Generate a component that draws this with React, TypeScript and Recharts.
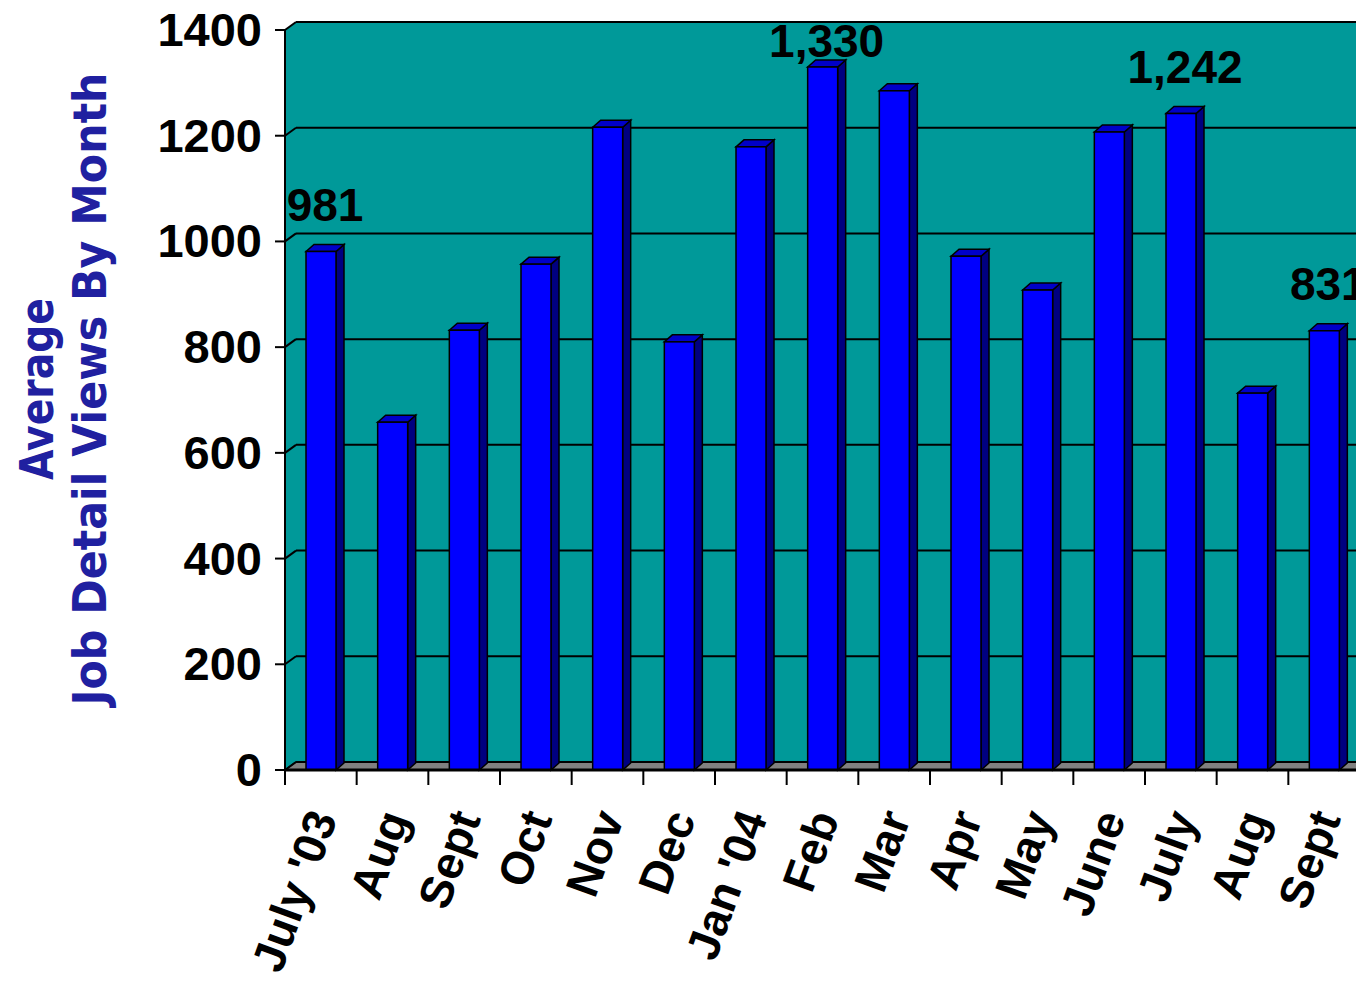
import { BarChart, Bar, XAxis, YAxis, CartesianGrid, ReferenceArea, LabelList } from 'recharts';

const months = ["July '03", 'Aug', 'Sept', 'Oct', 'Nov', 'Dec', "Jan '04", 'Feb', 'Mar', 'Apr', 'May', 'June', 'July', 'Aug', 'Sept'];
const views = [981, 658, 832, 957, 1216, 810, 1179, 1330, 1285, 972, 908, 1207, 1242, 713, 831];
const labelledMonths = [0, 7, 12, 14];
const yTicks = [0, 200, 400, 600, 800, 1000, 1200, 1400];

const data = months.map((month, i) => ({
  month,
  views: views[i],
  label: labelledMonths.includes(i) ? views[i].toLocaleString('en-US') : '',
}));

const CHART_W = 1362;
const CHART_H = 987;
const MARGIN = { top: 30, right: 2, bottom: 0, left: 0 };
const Y_AXIS_W = 285;
const BAND = (CHART_W - MARGIN.left - MARGIN.right - Y_AXIS_W) / months.length;

const TEAL = '#009999';
const FONT = '"Liberation Sans", Arial, sans-serif';
const WALL_DX = 11;
const WALL_DY = 8;
const BAR_DX = 8;
const BAR_DY = 7;

function Walls(props: any) {
  const { x, y, width, height } = props;
  const b = y + height;
  return (
    <g>
      <polygon
        points={`${x},${y} ${x + WALL_DX},${y - WALL_DY} ${x + width + WALL_DX},${y - WALL_DY} ${x + width + WALL_DX},${b - WALL_DY} ${x + width},${b} ${x},${b}`}
        fill={TEAL}
      />
      <polygon
        points={`${x},${b} ${x + WALL_DX},${b - WALL_DY} ${x + width + WALL_DX},${b - WALL_DY} ${x + width},${b}`}
        fill="#808080"
        stroke="#000"
        strokeWidth={1.5}
      />
    </g>
  );
}

function GridLine(props: any) {
  const { x1, y1, x2 } = props;
  return (
    <g key={props.key}>
      <line x1={x1} y1={y1} x2={x1 + WALL_DX} y2={y1 - WALL_DY} stroke="#000" strokeWidth={2} />
      <line x1={x1 + WALL_DX} y1={y1 - WALL_DY} x2={x2 + WALL_DX} y2={y1 - WALL_DY} stroke="#000" strokeWidth={2} />
    </g>
  );
}

function Bar3D(props: any) {
  const { x, y, width, height } = props;
  if (!height || height <= 0) return null;
  const r = x + width;
  const b = y + height;
  return (
    <g>
      <polygon
        points={`${r},${y} ${r + BAR_DX},${y - BAR_DY} ${r + BAR_DX},${b - BAR_DY} ${r},${b}`}
        fill="#000080"
        stroke="#000"
        strokeWidth={1.5}
      />
      <polygon
        points={`${x},${y} ${x + BAR_DX},${y - BAR_DY} ${r + BAR_DX},${y - BAR_DY} ${r},${y}`}
        fill="#0000c8"
        stroke="#000"
        strokeWidth={1.5}
      />
      <rect x={x} y={y} width={width} height={height} fill="#0000ff" stroke="#000" strokeWidth={1.5} />
    </g>
  );
}

function ValueLabel(props: any) {
  const vb = props.viewBox ?? props;
  const { x, y, width } = vb;
  if (!props.value) return null;
  const cy = Math.max(y - 47, 40);
  return (
    <text x={x + width / 2 + 4} y={cy} dy="0.36em" textAnchor="middle" fontSize={46} fontWeight="bold" fontFamily={FONT} fill="#000">
      {props.value}
    </text>
  );
}

function ValueTick(props: any) {
  const { x, y, payload } = props;
  return (
    <text x={x} y={y} dy={16} textAnchor="end" fontSize={47} fontWeight="bold" fontFamily={FONT} fill="#000">
      {payload.value}
    </text>
  );
}

function MonthTick(props: any) {
  const { x, y, payload } = props;
  const edge = x - BAND / 2;
  const px = x + 17;
  const py = y + 48;
  return (
    <g>
      <line x1={edge} y1={y} x2={edge} y2={y + 15} stroke="#000" strokeWidth={2} />
      <text x={px} y={py} transform={`rotate(-70, ${px}, ${py})`} textAnchor="end" fontSize={46} fontWeight="bold" fontFamily={FONT} fill="#000">
        {payload.value}
      </text>
    </g>
  );
}

function YTitle(props: any) {
  const vb = props.viewBox;
  const cy = vb.y + vb.height / 2 - 11;
  const style = { fontFamily: '"DejaVu Sans", sans-serif', fontWeight: 'bold' as const, fill: '#2020a0' };
  return (
    <g>
      <text transform={`translate(53, ${cy}) rotate(-90)`} textAnchor="middle" fontSize={46} textLength={182} lengthAdjust="spacingAndGlyphs" style={style}>
        Average
      </text>
      <text transform={`translate(106, ${cy}) rotate(-90)`} textAnchor="middle" fontSize={46} textLength={633} lengthAdjust="spacingAndGlyphs" style={style}>
        Job Detail Views By Month
      </text>
    </g>
  );
}

export default function App() {
  return (
    <div style={{ position: 'absolute', left: 0, top: 0, width: 1356, height: 987, overflow: 'hidden', background: '#fff' }}>
      <BarChart width={CHART_W} height={CHART_H} data={data} margin={MARGIN} barSize={30}>
        <ReferenceArea y1={0} y2={1400} shape={Walls} ifOverflow="visible" zIndex={-200} />
        <CartesianGrid vertical={false} horizontal={GridLine} />
        <YAxis
          width={Y_AXIS_W}
          domain={[0, 1400]}
          ticks={yTicks}
          interval={0}
          tick={ValueTick}
          tickSize={10}
          tickMargin={13}
          axisLine={{ stroke: '#000', strokeWidth: 2 }}
          tickLine={{ stroke: '#000', strokeWidth: 2 }}
          label={{ content: YTitle }}
        />
        <XAxis
          dataKey="month"
          height={217}
          interval={0}
          tick={MonthTick}
          tickSize={0}
          tickMargin={0}
          tickLine={false}
          axisLine={{ stroke: '#000', strokeWidth: 3 }}
        />
        <Bar dataKey="views" shape={Bar3D} isAnimationActive={false}>
          <LabelList dataKey="label" content={ValueLabel} />
        </Bar>
      </BarChart>
    </div>
  );
}
